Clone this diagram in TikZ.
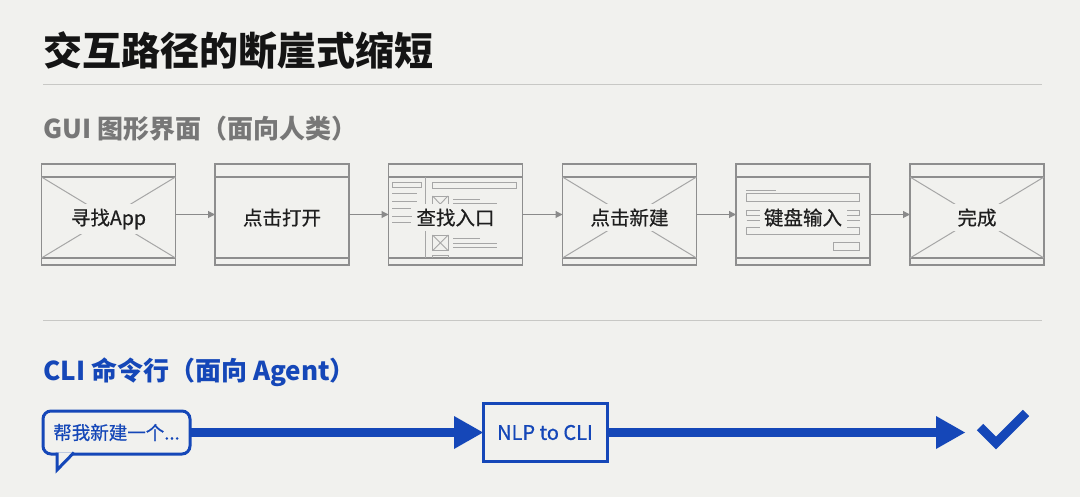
\documentclass[tikz,border=0pt]{standalone}
\usepackage{fontspec}
\usetikzlibrary{arrows.meta}
\newfontfamily\cjk{Noto Sans CJK SC}
\newfontfamily\cjkm{Noto Sans CJK SC}[FakeBold=0.6]
\definecolor{bgc}{HTML}{F1F1EE}
\definecolor{titlec}{HTML}{141414}
\definecolor{rulec}{HTML}{C8C8C5}
\definecolor{guigray}{HTML}{777777}
\definecolor{wfgray}{HTML}{8E8E8E}
\definecolor{wflight}{HTML}{A6A6A6}
\definecolor{labelc}{HTML}{1E1E1E}
\definecolor{arrowgray}{HTML}{8A8A8A}
\definecolor{bluec}{HTML}{1547B8}
\newcommand{\wfframe}[2]{%
  \node[wf] (#1) at (#2,214.5) {};
  \draw[wfs] ([yshift=-13pt]#1.north west) -- ([yshift=-13pt]#1.north east);
  \draw[wfs] ([yshift=7pt]#1.south west) -- ([yshift=7pt]#1.south east);}
\newcommand{\wfcross}[1]{%
  \draw[wfx] ([yshift=-13pt]#1.north west) -- ([yshift=7pt]#1.south east);
  \draw[wfx] ([yshift=7pt]#1.south west) -- ([yshift=-13pt]#1.north east);}
\begin{document}
\begin{tikzpicture}[x=1pt,y=-1pt,
  wf/.style={draw=wfgray,line width=1.1pt,minimum width=134pt,minimum height=101pt,inner sep=0pt,outer sep=0pt},
  wfs/.style={draw=wfgray,line width=1.1pt},
  wfx/.style={draw=wflight,line width=1pt},
  wfl/.style={draw=wflight,line width=0.9pt},
  lbl/.style={font=\cjkm\fontsize{19.5}{20}\selectfont,text=labelc,fill=bgc,inner sep=4.5pt,anchor=base},
  garrow/.style={draw=arrowgray,line width=1.1pt,-{Triangle[length=7pt,width=7pt]}},
  bluebar/.style={draw=bluec,line width=9.4pt,line cap=butt},
  bluehead/.style={fill=bluec},
  heading/.style={anchor=base west,inner sep=0pt,font=\cjk\bfseries\fontsize{26}{26}\selectfont}]
\fill[bgc] (0,0) rectangle (1080,497);
\useasboundingbox (0,0) rectangle (1080,497);

% title and rules
\node[anchor=base west,inner sep=0pt,font=\cjk\bfseries\fontsize{39}{39}\selectfont,text=titlec] (title) at (43,66) {交互路径的断崖式缩短};
\draw[rulec,line width=1pt] (43,85) -- (1042,85);
\node[heading,text=guigray] (gui) at (43,139) {GUI 图形界面（面向人类）};
\draw[rulec,line width=1pt] (43,320.5) -- (1042,320.5);
\node[heading,text=bluec] (cli) at (43,381) {CLI 命令行（面向 Agent）};

% wireframe boxes
\wfframe{b1}{108.5}
\wfframe{b2}{282}
\wfframe{b3}{455.5}
\wfframe{b4}{629.5}
\wfframe{b5}{803}
\wfframe{b6}{977}
\wfcross{b1}
\wfcross{b4}
\wfcross{b6}

% box 3 details
\draw[wfx] (425,177.5) -- (425,258);
\draw[wfl] (392,182.3) rectangle (421.5,187.7);
\draw[wfl] (392,193.3) -- (417,193.3);
\draw[wfl] (392,201.3) -- (417,201.3);
\draw[wfl] (392,208.5) -- (411,208.5);
\draw[wfl] (392,216.5) -- (417,216.5);
\draw[wfl] (392,222.7) -- (411,222.7);
\draw[wfl] (432.5,182.3) rectangle (516,188.3);
\draw[wfl] (432.5,196) rectangle (448,211);
\draw[wfl] (432.5,196) -- (440.25,204) -- (448,196);
\draw[wfl] (453,199) -- (480,199);
\draw[wfl] (453,203.5) -- (497,203.5);
\draw[wfl] (432.5,235) rectangle (448.3,250.7);
\draw[wfl] (432.5,235) -- (448.3,250.7);
\draw[wfl] (432.5,250.7) -- (448.3,235);
\draw[wfl] (453,238.5) -- (480,238.5);
\draw[wfl] (453,243) -- (497,243);
\draw[wfl] (453,247) -- (497,247);
\draw[wfl] (432.5,258) -- (432.5,255) -- (448.3,255) -- (448.3,258);

% box 5 details
\draw[wfl] (746,190) -- (776,190);
\draw[wfl] (746.5,193.8) rectangle (859.5,201.5);
\draw[wfl] (746.5,210.5) rectangle (859.5,215.5);
\draw[wfl] (746.5,220.5) -- (859.5,220.5);
\draw[wfl] (746.5,227.3) rectangle (859.5,234.3);
\draw[wfl] (833,242.7) rectangle (859.5,250);

% labels
\node[lbl] (l1) at (108.5,225) {寻找App};
\node[lbl] (l2) at (282,225) {点击打开};
\node[lbl] (l3) at (455.5,225) {查找入口};
\node[lbl] (l4) at (629.5,225) {点击新建};
\node[lbl] (l5) at (803,225) {键盘输入};
\node[lbl] (l6) at (977,225) {完成};

% gray arrows
\draw[garrow] (b1.east) -- (b2.west);
\draw[garrow] (b2.east) -- (b3.west);
\draw[garrow] (b3.east) -- (b4.west);
\draw[garrow] (b4.east) -- (b5.west);
\draw[garrow] (b5.east) -- (b6.west);

% CLI row
\node[draw=bluec,line width=3pt,rounded corners=8pt,minimum width=147pt,minimum height=43pt,
  inner sep=0pt,outer sep=0pt,fill=bgc,text=bluec,font=\cjkm\fontsize{18.5}{19}\selectfont] (bubble) at (116.5,432.5) {帮我新建一个...};
\draw[draw=bluec,line width=3pt,fill=bgc,line join=miter]
  ([xshift=14pt,yshift=1.5pt]bubble.south west) -- ([xshift=14pt,yshift=-16pt]bubble.south west)
  -- ([xshift=31pt,yshift=1.5pt]bubble.south west);
\node[draw=bluec,line width=3pt,minimum width=124pt,minimum height=57.5pt,inner sep=0pt,outer sep=0pt,
  text=bluec,font=\cjkm\fontsize{20}{20}\selectfont] (nlp) at (545,432.5) {NLP to CLI};
\coordinate (done) at (965,432.5);
\draw[bluebar] (bubble.east) -- ([xshift=-28pt]nlp.west);
\fill[bluehead] (nlp.west) -- ++(-29pt,16.5pt) -- ++(0pt,-33pt) -- cycle;
\draw[bluebar] (nlp.east) -- ([xshift=-28pt]done);
\fill[bluehead] (done) -- ++(-29pt,16.5pt) -- ++(0pt,-33pt) -- cycle;
\draw[bluec,line width=9pt,line join=miter,line cap=butt] (980,427) -- (996,443) -- (1026,413);
\end{tikzpicture}
\end{document}
